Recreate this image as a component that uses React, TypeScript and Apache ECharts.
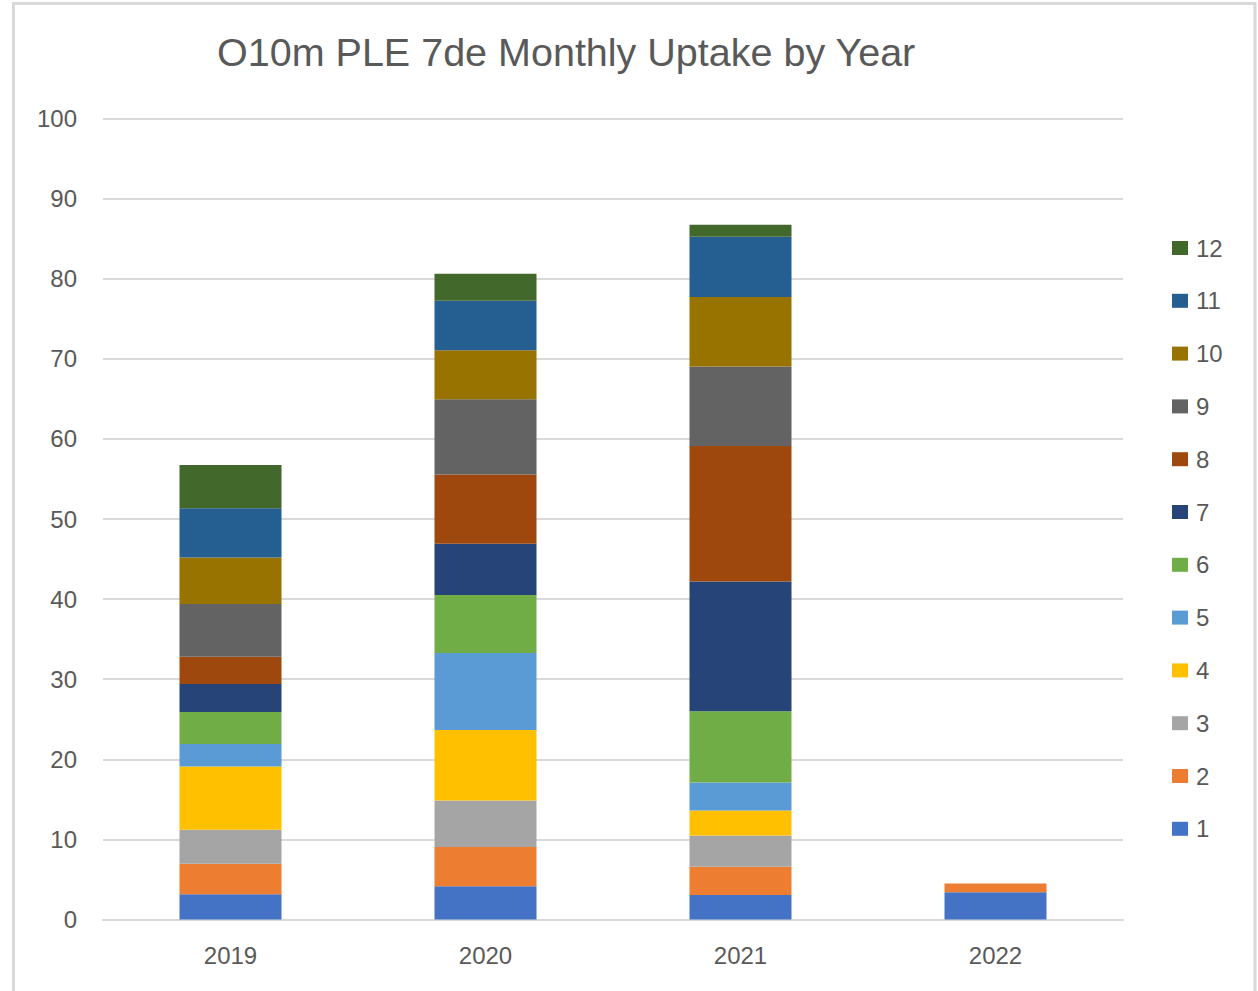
import React, { useEffect, useRef } from "react";
import * as echarts from "echarts";

const years = ["2019", "2020", "2021", "2022"];
const months = ["1", "2", "3", "4", "5", "6", "7", "8", "9", "10", "11", "12"];
const m1 = [3.15, 4.16, 3.05, 3.4];
const m2 = [3.8, 4.9, 3.55, 1.1];
const m3 = [4.25, 5.8, 3.9, null];
const m4 = [7.9, 8.8, 3.1, null];
const m5 = [2.8, 9.6, 3.5, null];
const m6 = [4.0, 7.25, 8.9, null];
const m7 = [3.5, 6.4, 16.2, null];
const m8 = [3.4, 8.65, 16.9, null];
const m9 = [6.6, 9.4, 9.95, null];
const m10 = [5.8, 6.1, 8.65, null];
const m11 = [6.15, 6.2, 7.55, null];
const m12 = [5.4, 3.35, 1.5, null];
const monthValues = [m1, m2, m3, m4, m5, m6, m7, m8, m9, m10, m11, m12];
const colors = [
  "#4472C4", "#ED7D31", "#A5A5A5", "#FFC000", "#5B9BD5", "#70AD47",
  "#264478", "#9E480E", "#636363", "#997300", "#255E91", "#43682B",
];
const yTicks = { min: 0, max: 100, interval: 10 };

const FONT = "'Liberation Sans', Arial, sans-serif";
const TEXT = "#595959";
const GRID = "#D9D9D9";

export default function App() {
  const ref = useRef<HTMLDivElement>(null);
  useEffect(() => {
    if (!ref.current) return;
    const chart = echarts.init(ref.current, undefined, { renderer: "svg" });
    chart.setOption({
      animation: false,
      backgroundColor: "#ffffff",
      title: {
        text: "O10m PLE 7de Monthly Uptake by Year",
        left: 212,
        top: 27,
        textStyle: { fontFamily: FONT, fontSize: 39.5, fontWeight: "normal", color: TEXT },
      },
      legend: {
        orient: "vertical",
        left: 1172,
        top: 236,
        padding: 0,
        itemWidth: 16,
        itemHeight: 14,
        itemGap: 28.8,
        icon: "rect",
        data: months.slice().reverse(),
        textStyle: { fontFamily: FONT, fontSize: 24, color: TEXT, lineHeight: 24, padding: [0, 0, 0, 3] },
      },
      graphic: [
        {
          type: "rect",
          shape: { x: 13.5, y: 3.5, width: 1241.5, height: 1010 },
          style: { fill: "none", stroke: GRID, lineWidth: 3 },
          silent: true,
        },
      ],
      grid: {
        left: 103,
        right: 135,
        top: 118.5,
        bottom: 71.5,
        containLabel: false,
        outerBoundsMode: "none",
      },
      xAxis: {
        type: "category",
        data: years,
        axisLine: { lineStyle: { color: GRID, width: 2 } },
        axisTick: { show: false },
        axisLabel: { fontFamily: FONT, fontSize: 24, color: TEXT, margin: 24 },
      },
      yAxis: {
        type: "value",
        min: yTicks.min,
        max: yTicks.max,
        interval: yTicks.interval,
        axisLine: { show: false },
        axisTick: { show: false },
        axisLabel: { fontFamily: FONT, fontSize: 24, color: TEXT, margin: 26 },
        splitLine: { lineStyle: { color: GRID, width: 2 } },
      },
      series: months.map((m, i) => ({
        name: m,
        type: "bar",
        stack: "total",
        barWidth: 102,
        data: monthValues[i],
        itemStyle: { color: colors[i] },
      })),
    });
    return () => chart.dispose();
  }, []);
  return (
    <div style={{ position: "fixed", left: 0, top: 0, width: 1258, height: 991, background: "#fff" }}>
      <div ref={ref} style={{ width: 1258, height: 991 }} />
    </div>
  );
}
